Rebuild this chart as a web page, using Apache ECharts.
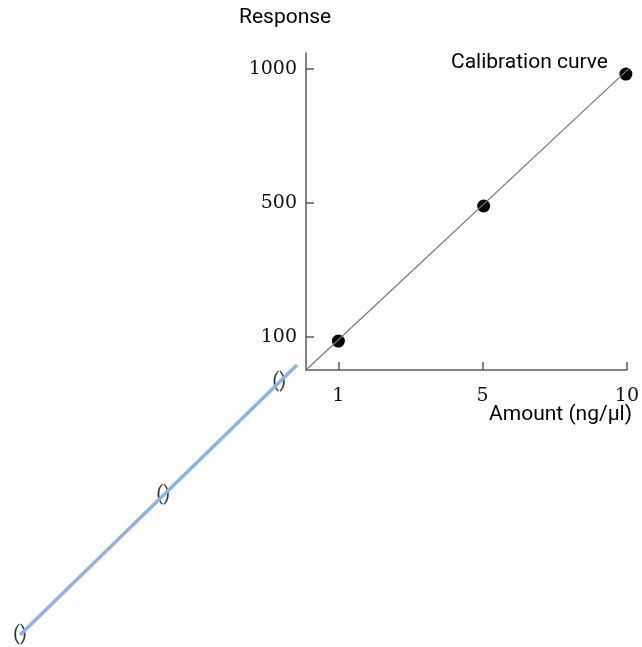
<!DOCTYPE html>
<html><head><meta charset="utf-8">
<script src="https://cdn.jsdelivr.net/npm/echarts@6/dist/echarts.min.js"></script>
<style>html,body{margin:0;padding:0;background:#fff}#c{width:642px;height:647px}</style>
</head><body><div id="c"></div>
<script>
// Schematic axes: tick labels sit at evenly spaced tick positions (0,1,2)
const amountTickLabels = ['1', '5', '10'];
const responseTickLabels = ['100', '500', '1000'];
// Calibration points, in tick-position units (amount index, response index)
const calX = [0, 1.007, 1.993];
const calY = [-0.03, 0.978, 1.963];
// Calibration curve through the origin
const fitX = [-0.2245, 2.05];
const fitY = [-0.246, 2.04];
// Blue extension line with empty "()" labels (fraction along the line)
const extLine = [0, 1];
const extLabelPos = [0, 0.517, 0.936];
const extLabels = ['()', '()', '()'];

const sans = 'Roboto';
const serif = 'DejaVu Serif';
const axisColor = '#5a5a5a';

const chart = echarts.init(document.getElementById('c'));
chart.setOption({
  animation: false,
  grid: [
    {left: 306, top: 53, width: 327, height: 317},
    {left: 20, top: 365, width: 277, height: 270}
  ],
  xAxis: [
    {type: 'value', gridIndex: 0, min: -0.2245, max: 2,
     axisLine: {show: true, onZero: false, lineStyle: {color: axisColor, width: 1.5}},
     axisTick: {show: true, inside: true, length: 8, customValues: [0, 1, 2], lineStyle: {color: axisColor, width: 1.5}},
     axisLabel: {customValues: [0, 1, 2], margin: 17, color: '#111', fontFamily: serif, fontSize: 19,
       formatter: v => amountTickLabels[Math.round(v)]},
     splitLine: {show: false}},
    {type: 'value', gridIndex: 1, min: 0, max: 1, show: false}
  ],
  yAxis: [
    {type: 'value', gridIndex: 0, min: -0.246, max: 2.12,
     axisLine: {show: true, onZero: false, lineStyle: {color: axisColor, width: 1.5}},
     axisTick: {show: true, inside: true, length: 8, customValues: [0, 1, 2], lineStyle: {color: axisColor, width: 1.5}},
     axisLabel: {customValues: [0, 1, 2], margin: 9, color: '#111', fontFamily: serif, fontSize: 19,
       formatter: v => responseTickLabels[Math.round(v)]},
     splitLine: {show: false}},
    {type: 'value', gridIndex: 1, min: 0, max: 1, show: false}
  ],
  series: [
    {type: 'line', xAxisIndex: 0, yAxisIndex: 0, clip: false, symbol: 'none',
     lineStyle: {color: '#777', width: 1.2},
     data: fitX.map((x, i) => [x, fitY[i]])},
    {type: 'scatter', xAxisIndex: 0, yAxisIndex: 0, symbolSize: 13, clip: false,
     itemStyle: {color: '#000', opacity: 1},
     data: calX.map((x, i) => [x, calY[i]])},
    {type: 'line', xAxisIndex: 1, yAxisIndex: 1, symbol: 'none', clip: false,
     lineStyle: {color: '#8db3e2', width: 3.5},
     data: extLine.map(v => [v, v])},
    {type: 'scatter', xAxisIndex: 1, yAxisIndex: 1, symbolSize: 0, clip: false,
     label: {show: true, position: 'inside', formatter: p => extLabels[p.dataIndex],
       color: '#000', fontFamily: sans, fontSize: 20},
     data: extLabelPos.map(v => [v, v])}
  ],
  graphic: [
    {type: 'text', left: 239, top: 7, style: {text: 'Response', font: '21px ' + sans, fill: '#000'}},
    {type: 'text', right: 34, top: 52, style: {text: 'Calibration curve', font: '21px ' + sans, fill: '#000'}},
    {type: 'text', right: 10, top: 404, style: {text: 'Amount (ng/µl)', font: '21px ' + sans, fill: '#000'}}
  ]
});
</script></body></html>
